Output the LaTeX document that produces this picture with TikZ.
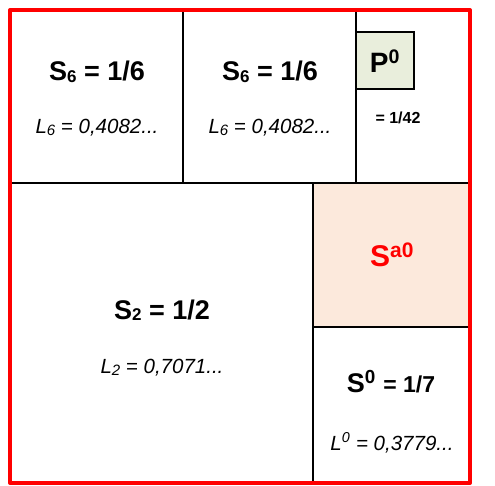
\documentclass[tikz,border=0pt]{standalone}
\usepackage{fontspec}
\setmainfont{Liberation Sans}
\usetikzlibrary{positioning}
\definecolor{FrameRed}{HTML}{FF0000}
\definecolor{PeachFill}{HTML}{FCE9DC}
\definecolor{SageFill}{HTML}{E9EEDC}
\newcommand{\lowsub}[1]{\raisebox{-1.5pt}{\fontsize{17}{17}\selectfont #1}}
\newcommand{\itsub}[1]{\raisebox{-1.5pt}{\fontsize{15}{15}\selectfont #1}}
\tikzset{
  areatext/.style={font=\fontsize{27}{29}\selectfont\bfseries, inner sep=0pt},
  lentext/.style={font=\fontsize{20.5}{22}\selectfont\itshape, inner sep=0pt},
  partline/.style={line width=2.3pt, black},
}

\begin{document}
\begin{tikzpicture}[x=1pt, y=-1pt]
  \useasboundingbox (0,0) rectangle (495,485);
  % shaded parts
  \fill[PeachFill] (313,183) rectangle (470,327);
  \draw[partline, fill=SageFill, line width=1.8pt] (356,32) rectangle (414,89);
  % dividing lines
  \draw[partline] (10,183) -- (470,183);
  \draw[partline] (183,10) -- (183,183);
  \draw[partline] (356,10) -- (356,183);
  \draw[partline] (313,183) -- (313,483);
  \draw[partline] (313,327) -- (470,327);
  % outer frame
  \draw[FrameRed, line width=4pt, line join=round] (10,10) rectangle (470,483);

  % labels
  \node[areatext] (sixa) at (97,72) {S\lowsub{6} = 1/6};
  \node[lentext] (lsixa) at (97,128) {L\itsub{6} = 0,4082...};
  \node[areatext] (sixb) at (270,72) {S\lowsub{6} = 1/6};
  \node[lentext] (lsixb) at (270,128) {L\itsub{6} = 0,4082...};
  \node[font=\fontsize{28}{30}\selectfont\bfseries, inner sep=0pt] (pzero) at (385,61)
    {P\textsuperscript{0}};
  \node[font=\fontsize{16}{18}\selectfont\bfseries, inner sep=0pt] (pval) at (398,118) {= 1/42};
  \node[font=\fontsize{30}{32}\selectfont\bfseries, inner sep=0pt, text=FrameRed] (sazero)
    at (392,255) {S\textsuperscript{a0}};
  \node[areatext] (stwo) at (162,310) {S\lowsub{2} = 1/2};
  \node[lentext] (ltwo) at (162,368) {L\itsub{2} = 0,7071...};
  \node[areatext] (szero) at (391,382)
    {S\textsuperscript{0} {\fontsize{23}{25}\selectfont= 1/7}};
  \node[lentext] (lzero) at (392,443) {L\textsuperscript{0} = 0,3779...};
\end{tikzpicture}
\end{document}
